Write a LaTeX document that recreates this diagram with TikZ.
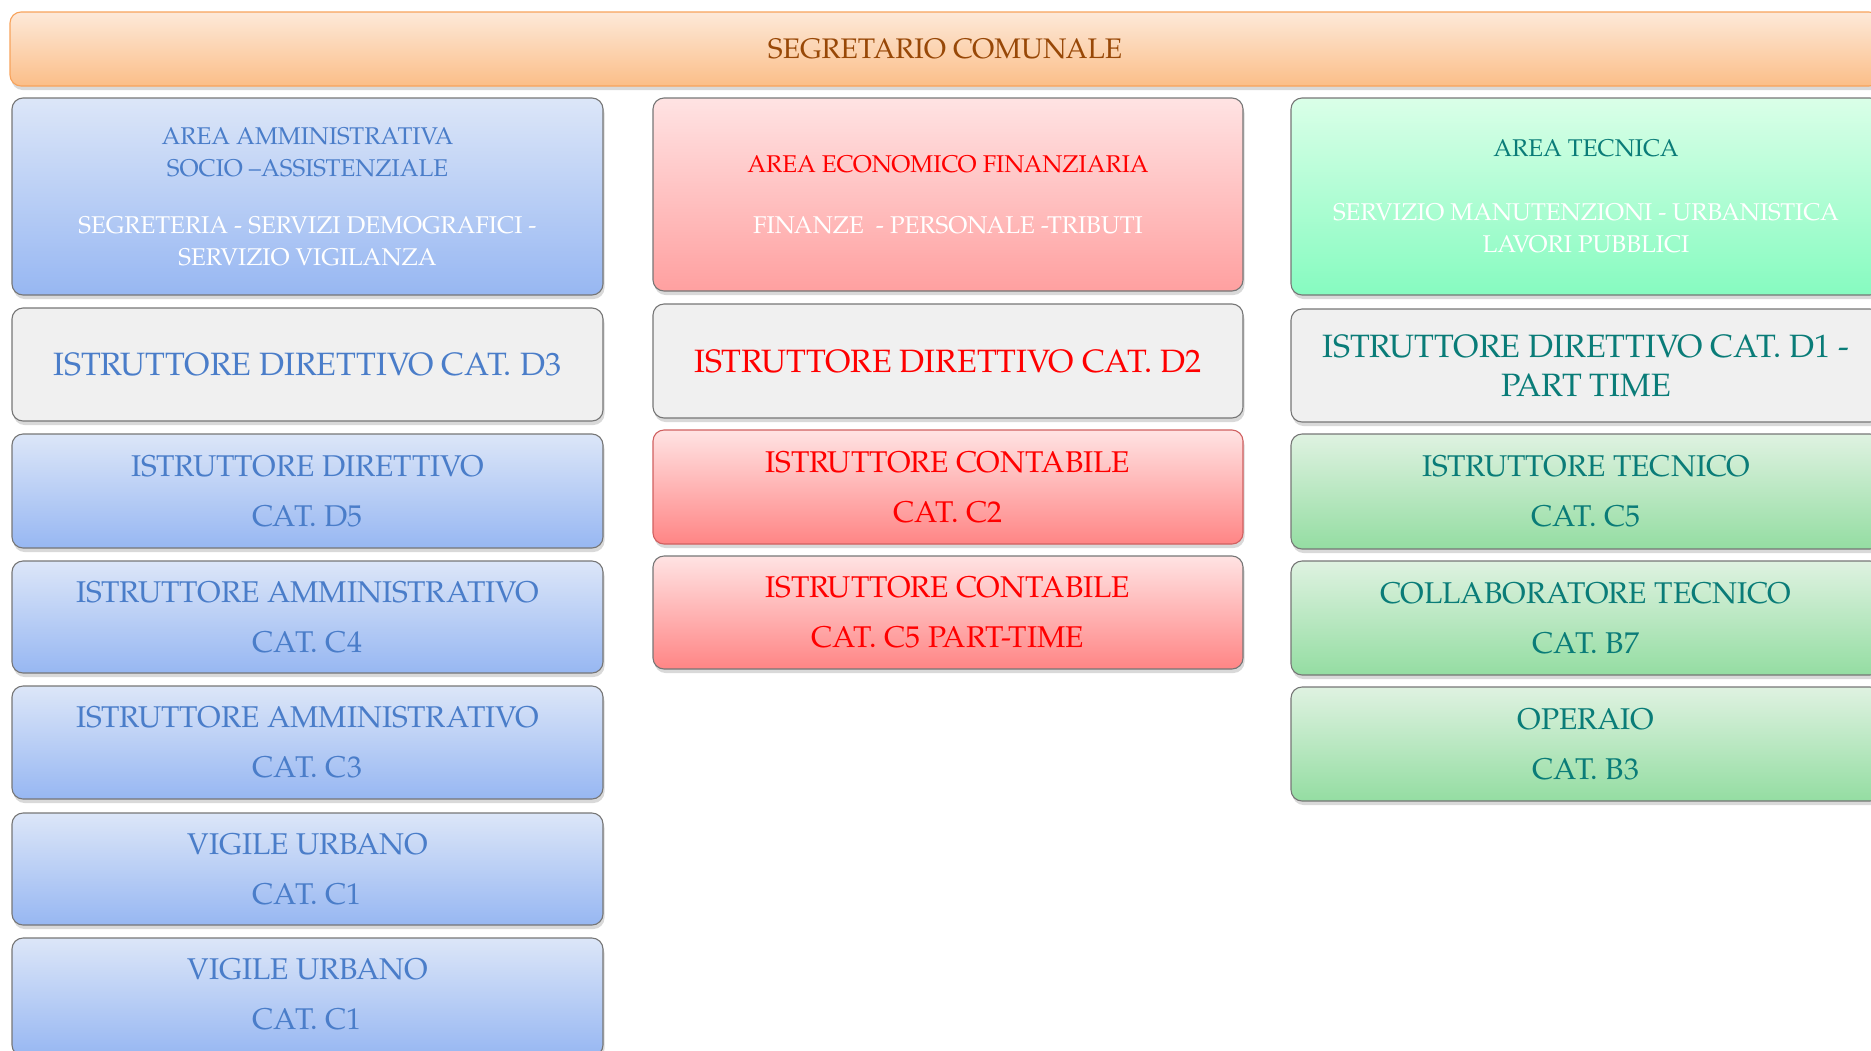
\documentclass[tikz,border=0pt]{standalone}
\usepackage{fontspec}
\setmainfont{TeX Gyre Pagella}
\usetikzlibrary{shadows}
\definecolor{topA}{HTML}{FDE9D9}
\definecolor{topB}{HTML}{FBBE88}
\definecolor{topline}{HTML}{F7A35C}
\definecolor{toptext}{HTML}{984807}
\definecolor{blueA}{HTML}{DCE6F8}
\definecolor{blueB}{HTML}{97B7F2}
\definecolor{bluetext}{HTML}{4A7DC9}
\definecolor{grayfill}{HTML}{F0F0F0}
\definecolor{boxgray}{HTML}{767676}
\definecolor{redA}{HTML}{FFE3E3}
\definecolor{redB}{HTML}{FFA0A0}
\definecolor{redC}{HTML}{FF8585}
\definecolor{redline}{HTML}{D06060}
\definecolor{redtext}{HTML}{FF0000}
\definecolor{mintA}{HTML}{DAFFE8}
\definecolor{mintB}{HTML}{86FBC0}
\definecolor{greenA}{HTML}{DFF2E1}
\definecolor{greenB}{HTML}{94DDA2}
\definecolor{tealtext}{HTML}{0A7C78}
\tikzset{
  basebox/.style={rectangle, rounded corners=11pt, draw=boxgray, line width=1.1pt,
    align=center, inner sep=0pt,
    drop shadow={shadow xshift=1.5pt, shadow yshift=-4pt, opacity=0.3}},
  topbar/.style={basebox, draw=topline, top color=topA, bottom color=topB,
    text=toptext, font=\fontsize{28.3}{32}\selectfont},
  areafont/.style={font=\fontsize{24.2}{32}\selectfont},
  bigfont/.style={font=\fontsize{32.3}{39}\selectfont},
  jobfont/.style={font=\fontsize{30}{50}\selectfont},
  bluearea/.style={basebox, top color=blueA, bottom color=blueB, text=bluetext, areafont},
  redarea/.style={basebox, top color=redA, bottom color=redB, text=redtext, areafont},
  mintarea/.style={basebox, top color=mintA, bottom color=mintB, text=tealtext, areafont},
  graybox/.style={basebox, fill=grayfill, bigfont},
  bluejob/.style={basebox, top color=blueA, bottom color=blueB, text=bluetext, jobfont},
  redjob/.style={basebox, top color=redA, bottom color=redC, text=redtext, jobfont},
  greenjob/.style={basebox, top color=greenA, bottom color=greenB, text=tealtext, jobfont},
  lcol/.style={minimum width=591pt},
  mcol/.style={minimum width=590pt},
  rcol/.style={minimum width=590pt},
}
\begin{document}
\begin{tikzpicture}[x=1pt,y=-1pt]
\useasboundingbox (0,0) rectangle (1871,1050);

\node[topbar, minimum width=1870pt, minimum height=74pt] (top) at (945,49) {SEGRETARIO COMUNALE};

% left column
\node[bluearea, lcol, minimum height=197pt] (la) at (307.5,196.5)
  {AREA AMMINISTRATIVA\\SOCIO –ASSISTENZIALE\\[25pt]
   \textcolor{white}{SEGRETERIA - SERVIZI DEMOGRAFICI -}\\
   \textcolor{white}{SERVIZIO VIGILANZA}};
\node[graybox, lcol, minimum height=113pt, text=bluetext] (ld3) at (307.5,364.5) {ISTRUTTORE DIRETTIVO CAT. D3};
\node[bluejob, lcol, minimum height=114pt] (ld5) at (307.5,491) {ISTRUTTORE DIRETTIVO\\CAT. D5};
\node[bluejob, lcol, minimum height=112pt] (lc4) at (307.5,617) {ISTRUTTORE AMMINISTRATIVO\\CAT. C4};
\node[bluejob, lcol, minimum height=113pt] (lc3) at (307.5,742.5) {ISTRUTTORE AMMINISTRATIVO\\CAT. C3};
\node[bluejob, lcol, minimum height=112pt] (lc1a) at (307.5,869) {VIGILE URBANO\\CAT. C1};
\node[bluejob, lcol, minimum height=118pt] (lc1b) at (307.5,997) {VIGILE URBANO\\CAT. C1\\[-44pt]\mbox{}};

% middle column
\node[redarea, mcol, minimum height=193pt] (ma) at (948,194.5)
  {AREA ECONOMICO FINANZIARIA\\[29pt]
   \textcolor{white}{FINANZE \ - PERSONALE -TRIBUTI}};
\node[graybox, mcol, minimum height=114pt, text=redtext] (md2) at (948,361) {ISTRUTTORE DIRETTIVO CAT. D2};
\node[redjob, mcol, minimum height=114pt, draw=redline] (mc2) at (948,487) {ISTRUTTORE CONTABILE\\CAT. C2};
\node[redjob, mcol, minimum height=113pt] (mc5) at (948,612.5) {ISTRUTTORE CONTABILE\\CAT. C5 PART-TIME};

% right column
\node[mintarea, rcol, minimum height=197pt] (ra) at (1586,196.5)
  {AREA TECNICA\\[32pt]
   \textcolor{white}{SERVIZIO MANUTENZIONI - URBANISTICA}\\
   \textcolor{white}{LAVORI PUBBLICI}};
\node[graybox, rcol, minimum height=113pt, text=tealtext] (rd1) at (1586,365.5) {ISTRUTTORE DIRETTIVO CAT. D1 -\\PART TIME};
\node[greenjob, rcol, minimum height=115pt] (rc5) at (1586,491.5) {ISTRUTTORE TECNICO\\CAT. C5};
\node[greenjob, rcol, minimum height=114pt] (rb7) at (1586,618) {COLLABORATORE TECNICO\\CAT. B7};
\node[greenjob, rcol, minimum height=114pt] (rb3) at (1586,744) {OPERAIO\\CAT. B3};
\end{tikzpicture}
\end{document}
